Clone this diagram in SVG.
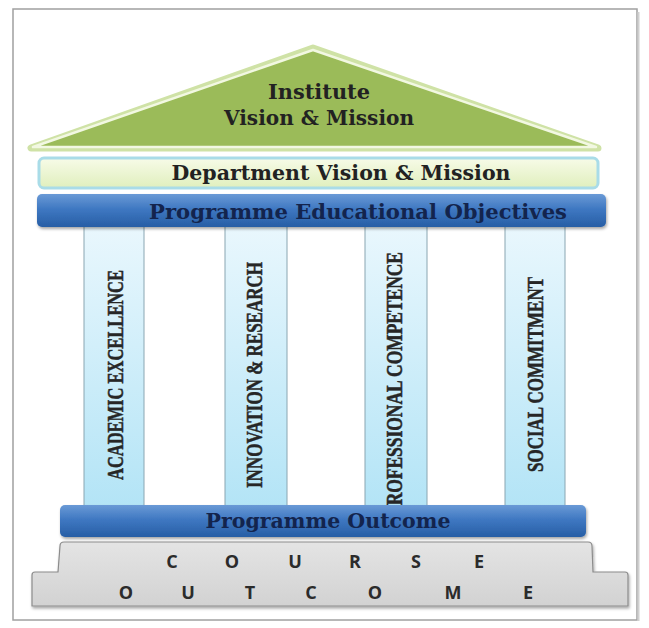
<svg xmlns="http://www.w3.org/2000/svg" width="649" height="628" viewBox="0 0 649 628">
<defs>
<linearGradient id="blueBar" x1="0" y1="0" x2="0" y2="1">
<stop offset="0" stop-color="#6a9ad6"/>
<stop offset="0.45" stop-color="#3f78c2"/>
<stop offset="1" stop-color="#275ea5"/>
</linearGradient>
<linearGradient id="deptBar" x1="0" y1="0" x2="0" y2="1">
<stop offset="0" stop-color="#f7fbe8"/>
<stop offset="1" stop-color="#e0efbd"/>
</linearGradient>
<linearGradient id="pillar" x1="0" y1="0" x2="0" y2="1">
<stop offset="0" stop-color="#e9f7fd"/>
<stop offset="1" stop-color="#b3e4f6"/>
</linearGradient>
<linearGradient id="base" x1="0" y1="0" x2="0" y2="1">
<stop offset="0" stop-color="#e4e4e4"/>
<stop offset="1" stop-color="#d2d2d2"/>
</linearGradient>
<filter id="sh" x="-5%" y="-20%" width="110%" height="160%">
<feDropShadow dx="1" dy="2" stdDeviation="1.5" flood-color="#000" flood-opacity="0.35"/>
</filter>
</defs>
<style>
.pil{fill:url(#pillar);stroke:#8aa6b2;stroke-width:1}
.ptxt{font-family:"Liberation Serif",serif;font-weight:bold;font-size:24px;fill:#262626;stroke:#262626;stroke-width:0.5;text-anchor:middle}
.head{font-family:"DejaVu Serif",serif;font-weight:bold;fill:#222;text-anchor:middle}
.navy{fill:#13244d}
.blue{fill:url(#blueBar);filter:url(#sh)}
.co{font-family:"Open Sans",sans-serif;font-weight:bold;font-size:18px;fill:#2b2b2b;text-anchor:middle}
</style>
<rect x="13" y="9" width="624" height="611" fill="#fff" stroke="#a0a0a0" stroke-width="1.5"/>
<line x1="638.5" y1="12" x2="638.5" y2="621" stroke="#d0d0d0" stroke-width="2"/>

<g id="pillar-academic">
<rect class="pil" x="84" y="226" width="60" height="282"/>
<text class="ptxt" transform="translate(123,375) rotate(-90)" textLength="210" lengthAdjust="spacingAndGlyphs">ACADEMIC EXCELLENCE</text>
</g>
<g id="pillar-innovation">
<rect class="pil" x="225" y="226" width="62" height="282"/>
<text class="ptxt" transform="translate(262,375) rotate(-90)" textLength="226" lengthAdjust="spacingAndGlyphs">INNOVATION &amp; RESEARCH</text>
</g>
<g id="pillar-professional">
<rect class="pil" x="365" y="226" width="62" height="282"/>
<text class="ptxt" transform="translate(402,384) rotate(-90)" textLength="264" lengthAdjust="spacingAndGlyphs">PROFESSIONAL COMPETENCE</text>
</g>
<g id="pillar-social">
<rect class="pil" x="505" y="226" width="60" height="282"/>
<text class="ptxt" transform="translate(543,374.5) rotate(-90)" textLength="195" lengthAdjust="spacingAndGlyphs">SOCIAL COMMITMENT</text>
</g>

<g id="roof">
<polygon points="313,48 31,148 598,148" fill="none" stroke="#cfe2a6" stroke-width="7" stroke-linejoin="round"/>
<polygon points="313,50 33,147 596,147" fill="#9bbb59" stroke="#f2f8e2" stroke-width="2.5" stroke-linejoin="round"/>
<text class="head" x="319" y="99" font-size="20" textLength="102" lengthAdjust="spacingAndGlyphs">Institute</text>
<text class="head" x="319" y="125" font-size="20" textLength="190" lengthAdjust="spacingAndGlyphs">Vision &amp; Mission</text>
</g>

<g id="dept">
<rect x="39" y="158" width="559" height="30" rx="5" fill="url(#deptBar)" stroke="#a9dce8" stroke-width="3"/>
<text class="head" x="341" y="180" font-size="20" textLength="339" lengthAdjust="spacingAndGlyphs">Department Vision &amp; Mission</text>
</g>

<g id="peo">
<rect class="blue" x="37" y="194" width="569" height="33" rx="5"/>
<text class="head navy" x="358" y="219" font-size="20" textLength="418" lengthAdjust="spacingAndGlyphs">Programme Educational Objectives</text>
</g>

<g id="po">
<rect class="blue" x="60" y="505" width="526" height="32" rx="5"/>
<text class="head navy" x="328" y="528" font-size="20" textLength="245" lengthAdjust="spacingAndGlyphs">Programme Outcome</text>
</g>

<g id="course-outcome">
<path d="M32,606 L32,575 Q32,572 35,572 L58,572 L60,546 Q60,542 64,542 L588,542 Q592,542 592,546 L593,572 L625,572 Q628,572 628,575 L628,606 Z" fill="url(#base)" stroke="#8c8c8c" stroke-width="1.2" filter="url(#sh)"/>
<text class="co" x="172" y="568">C</text>
<text class="co" x="232" y="568">O</text>
<text class="co" x="295" y="568">U</text>
<text class="co" x="355" y="568">R</text>
<text class="co" x="416" y="568">S</text>
<text class="co" x="479" y="568">E</text>
<text class="co" x="126" y="599">O</text>
<text class="co" x="188" y="599">U</text>
<text class="co" x="250" y="599">T</text>
<text class="co" x="311" y="599">C</text>
<text class="co" x="375" y="599">O</text>
<text class="co" x="453" y="599">M</text>
<text class="co" x="528" y="599">E</text>
</g>
</svg>
